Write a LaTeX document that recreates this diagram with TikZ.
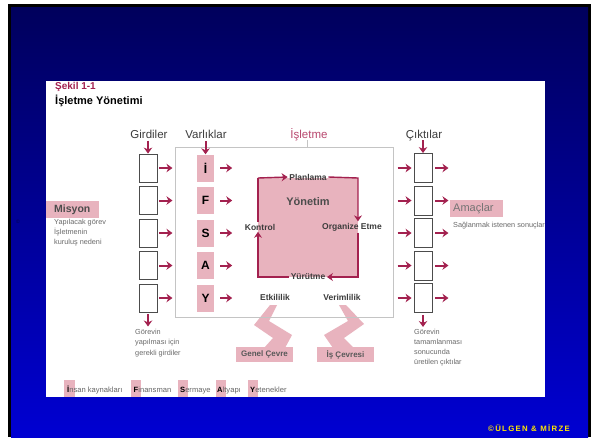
\documentclass[tikz,border=0pt]{standalone}
\usepackage{fontspec}
\setmainfont{Liberation Sans}
\usetikzlibrary{arrows.meta,calc}
\definecolor{crim}{HTML}{A3214F}
\definecolor{crimlt}{HTML}{B8476E}
\definecolor{pinkf}{HTML}{E8B3BE}
\definecolor{navytop}{HTML}{00005C}
\definecolor{navybot}{HTML}{0000D2}
\definecolor{txtd}{HTML}{3C3C3C}
\definecolor{txtg}{HTML}{6A6A6A}
\definecolor{boxgray}{HTML}{C4C4C4}
\definecolor{cpy}{HTML}{FFE800}
\begin{document}
\begin{tikzpicture}[x=1pt,y=-1pt,
  hdr/.style={font=\fontsize{11.5}{13}\selectfont, text=txtd, inner sep=1pt, anchor=base},
  inbox/.style={draw=black!70, line width=0.9pt, minimum width=18pt, minimum height=28pt, inner sep=0pt},
  letterbox/.style={fill=pinkf, minimum width=17pt, minimum height=27pt, inner sep=0pt, font=\fontsize{12}{14}\selectfont\bfseries},
  arr/.style={draw=crim, line width=2pt, -{Stealth[length=6pt,width=8.5pt,inset=2pt]}},
  cyc/.style={draw=crim, line width=1.4pt},
  cycarr/.style={cyc, -{Stealth[length=6pt,width=8pt,inset=2pt]}},
  lbl/.style={font=\fontsize{8.5}{10}\selectfont\bfseries, text=txtd, inner sep=1.5pt},
  small/.style={font=\fontsize{7.3}{10.5}\selectfont, text=txtg, align=left, inner sep=0pt},
  tagbox/.style={fill=pinkf, minimum width=53pt, minimum height=17pt, inner sep=0pt},
  envbox/.style={fill=pinkf, minimum width=57pt, minimum height=15pt, inner sep=0pt, font=\fontsize{8}{10}\selectfont\bfseries, text=black!65},
  bolt/.style={fill=pinkf},
  legbar/.style={fill=pinkf},
  legtxt/.style={font=\fontsize{7.6}{9}\selectfont, text=black!60, anchor=base west, inner sep=0pt}
]
\useasboundingbox (0,0) rectangle (599,437);
% slide background
\fill[black] (8,4) rectangle (591,437);
\shade[top color=navytop, bottom color=navybot] (11,7) rectangle (588,437);
\node[font=\fontsize{5}{6}\selectfont, text=navytop!80!black] (cleft) at (18,222) {©};
% white panel
\fill[white] (46,81) rectangle (545,397);
% title
\node[font=\fontsize{10}{12}\selectfont\bfseries, text=crim, anchor=west, inner sep=0pt] (sekil) at (55,87) {Şekil 1-1};
\node[font=\fontsize{11}{13}\selectfont\bfseries, text=black, anchor=west, inner sep=0pt] (title) at (55,101) {İşletme Yönetimi};
% headers
\node[hdr] (girdiler) at (149,138) {Girdiler};
\node[hdr] (varliklar) at (206,138) {Varlıklar};
\node[hdr, text=crimlt] (isletme) at (309,138) {İşletme};
\node[hdr] (ciktilar) at (424,138) {Çıktılar};
% bolts
\fill[bolt] (270,305) -- (277,305) -- (269,321) -- (292,335) -- (285,348) -- (264,348) -- (273,338) -- (254,325) -- cycle;
\fill[bolt] (339,305) -- (346,305) -- (364,324) -- (344,338) -- (354,348) -- (333,348) -- (324,335) -- (348,321) -- cycle;
% isletme box
\node[draw=boxgray, line width=0.9pt, minimum width=218pt, minimum height=170pt, inner sep=0pt] (isbox) at (284,232) {};
\draw[boxgray, line width=0.9pt] (isbox.north -| 307,0) -- ++(0,-7);
% environment boxes
\node[envbox] (genel) at (264.5,354.5) {Genel Çevre};
\node[envbox] (iscevre) at (345.5,354.5) {İş Çevresi};
\node[lbl] (etk) at (275,297) {Etkililik};
\node[lbl] (ver) at (342,297) {Verimlilik};
% yonetim square
\coordinate (tl) at (258,178);
\coordinate (tr) at (358,178);
\coordinate (br) at (358,277);
\coordinate (bl) at (258,277);
\fill[pinkf] (tl) rectangle (br);
\node[font=\fontsize{11}{13}\selectfont\bfseries, text=black!70] (yon) at (308,202) {Yönetim};
\node[lbl] (plan) at (308,177) {Planlama};
\node[lbl] (yur) at (308,277) {Yürütme};
\node[lbl] (kon) at (260,227) {Kontrol};
\node[lbl] (org) at (352,227) {Organize Etme};
\draw[cycarr] (tl) -- (plan.west);
\draw[cycarr] (plan.east) -- (tr) -- (tr |- org.north);
\draw[cycarr] (tr |- org.south) -- (br) -- (yur.east);
\draw[cycarr] (yur.west) -- (bl) -- (bl |- kon.south);
\draw[cyc] (bl |- kon.north) -- (tl);
% rows
\foreach \i/\y/\L in {1/168/İ, 2/200.5/F, 3/233/S, 4/265.5/A, 5/298/Y}{
  \node[inbox] (g\i) at (148,\y) {};
  \draw[arr] ([xshift=2pt]g\i.east) -- ++(13,0);
  \node[letterbox] (v\i) at (205.5,\y) {\L};
  \draw[arr] ([xshift=6pt]v\i.east) -- ++(12,0);
  \node[inbox, minimum height=29pt] (c\i) at (423,\y) {};
  \draw[arr] ([xshift=-16pt]c\i.west) -- ([xshift=-2pt]c\i.west);
  \draw[arr] ([xshift=3pt]c\i.east) -- ++(13,0);
}
\draw[arr] ([yshift=13pt]g1.north) -- (g1.north);
\draw[arr] ([yshift=13pt]v1.north) -- (v1.north);
\draw[arr] ([yshift=13pt]c1.north) -- (c1.north);
\draw[arr] ([yshift=-2pt]g5.south) -- ++(0,12);
\draw[arr] ([yshift=-2pt]c5.south) -- ++(0,12);
\node[small, anchor=north west] (gdesc) at (135,329) {Görevin\\yapılması için\\gerekli girdiler};
\node[small, anchor=north west, font=\fontsize{7.3}{10}\selectfont] (cdesc) at (414,329) {Görevin\\tamamlanması\\sonucunda\\üretilen çıktılar};
% Misyon
\node[tagbox, anchor=north west] (mis) at (46,201) {};
\node[font=\fontsize{10.5}{12}\selectfont\bfseries, text=black!70, anchor=west, inner sep=0pt] (mistxt) at ([xshift=8pt]mis.west) {Misyon};
\node[small, anchor=north west, font=\fontsize{7.3}{9.8}\selectfont] (misdesc) at (54,219) {Yapılacak görev\\İşletmenin\\kuruluş nedeni};
% Amaclar
\node[tagbox, anchor=north west] (ama) at (450,200) {};
\node[font=\fontsize{11}{13}\selectfont, text=black!55, anchor=west, inner sep=0pt] (amatxt) at ([xshift=3pt]ama.west) {Amaçlar};
\begin{scope}
\clip (46,81) rectangle (545,397);
\node[small, anchor=north west] (amadesc) at (453,222) {Sağlanmak istenen sonuçlar};
\end{scope}
% legend
\fill[legbar] (64,380) rectangle (75,397);
\fill[legbar] (131,380) rectangle (141,397);
\fill[legbar] (178,380) rectangle (188,397);
\fill[legbar] (216,380) rectangle (226,397);
\fill[legbar] (248,380) rectangle (258,397);
\node[legtxt] (l1) at (67,392) {\textcolor{black}{\bfseries İ}nsan kaynakları};
\node[legtxt] (l2) at (133.5,392) {\textcolor{black}{\bfseries F}inansman};
\node[legtxt] (l3) at (180,392) {\textcolor{black}{\bfseries S}ermaye};
\node[legtxt] (l4) at (217,392) {\textcolor{black}{\bfseries A}ltyapı};
\node[legtxt] (l5) at (250,392) {\textcolor{black}{\bfseries Y}etenekler};
% copyright
\node[font=\fontsize{7.8}{9}\selectfont\bfseries, text=cpy, inner sep=0pt] (copy) at (529,428) {©\,Ü\,L\,G\,E\,N \,\&\, M\,İ\,R\,Z\,E};
\end{tikzpicture}
\end{document}
